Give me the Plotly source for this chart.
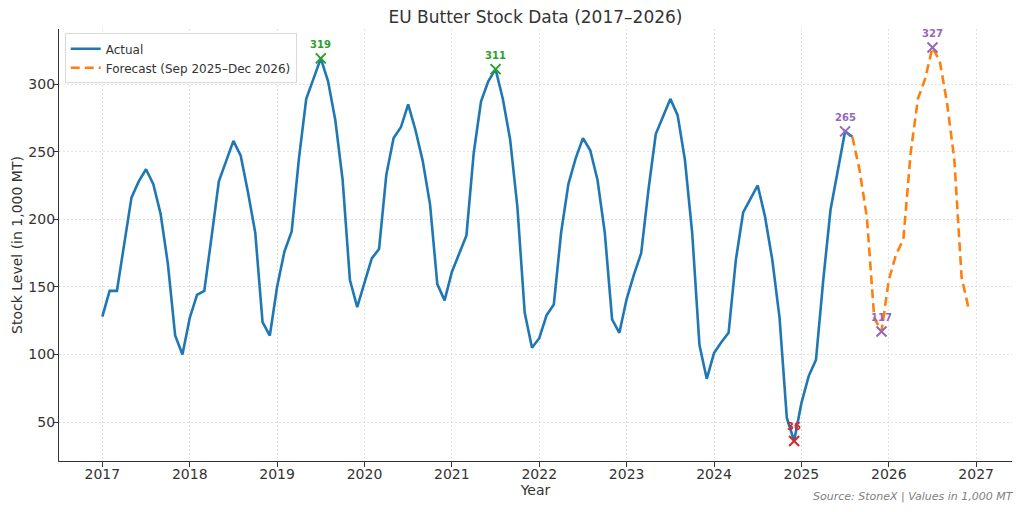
import numpy as np
import plotly.graph_objects as go

# monthly stock levels, 1,000 MT
ACTUAL_START = (2017, 1)
actual = [
    128, 147, 147, 182, 216, 228, 237, 226, 204, 167, 114, 100,   # 2017
    127, 144, 147, 187, 228, 243, 258, 247, 220, 190, 124, 114,   # 2018
    150, 176, 191, 245, 289, 304, 319, 302, 273, 229, 155, 135,   # 2019
    154, 171, 178, 233, 260, 268, 285, 266, 243, 211, 152, 140,   # 2020
    161, 174, 188, 249, 287, 302, 311, 289, 259, 209, 131, 105,   # 2021
    112, 129, 137, 190, 226, 245, 260, 251, 229, 190, 126, 116,   # 2022
    141, 159, 175, 222, 263, 276, 289, 277, 244, 190, 107, 82,    # 2023
    101, 109, 116, 170, 205, 215, 225, 202, 170, 127, 53, 36,     # 2024
    64, 84, 96, 155, 207, 236, 265, 261,                          # 2025 Jan-Aug
]

FORECAST_START = (2025, 9)
forecast = [
    236, 201, 127, 117,                                           # 2025 Sep-Dec
    155, 174, 185, 249, 289, 304, 327, 317, 286, 244, 157, 133,   # 2026
]

# highlighted months (year, month) and their colour
highlights = [
    ((2019, 7), "#2ca02c"),
    ((2021, 7), "#2ca02c"),
    ((2024, 12), "#d62728"),
    ((2025, 7), "#9467bd"),
    ((2025, 12), "#9467bd"),
    ((2026, 7), "#9467bd"),
]

FONT = "DejaVu Sans"


def month_axis(start, n):
    y, m = start
    return [y + (m - 1 + i) / 12 for i in range(n)]


x_act = month_axis(ACTUAL_START, len(actual))
x_fc = month_axis(FORECAST_START, len(forecast))

# forecast line is joined to last actual point
x_fc_line = [x_act[-1]] + x_fc
y_fc_line = [actual[-1]] + forecast

lookup = dict(zip(x_act + x_fc, actual + forecast))

fig = go.Figure()

fig.add_trace(go.Scatter(x=x_act, y=actual, mode="lines", name="Actual",
                         line=dict(color="#1f77b4", width=2.6)))
fig.add_trace(go.Scatter(x=x_fc_line, y=y_fc_line, mode="lines",
                         name="Forecast (Sep 2025\u2013Dec 2026)",
                         line=dict(color="#ff7f0e", width=2.6, dash="9px,5px")))

for (ym, col) in highlights:
    xv = month_axis(ym, 1)[0]
    yv = lookup[min(lookup, key=lambda k: abs(k - xv))]
    fig.add_trace(go.Scatter(x=[xv], y=[yv], mode="markers", showlegend=False,
                             marker=dict(symbol="x-thin", size=10, color=col,
                                         line=dict(color=col, width=2))))
    fig.add_annotation(x=xv, y=yv, text="<b>%d</b>" % yv, showarrow=False,
                       yshift=14, font=dict(family=FONT, size=10, color=col))

fig.add_annotation(text="<i>Source: StoneX | Values in 1,000 MT</i>",
                   xref="paper", yref="paper", x=1.004, y=-0.083,
                   xanchor="right", yanchor="middle", showarrow=False,
                   font=dict(family=FONT, size=11, color="#808080"))

# page body adds an 8px offset, so margins are shifted to compensate
fig.update_layout(
    width=1024, height=512,
    template="simple_white",
    margin=dict(l=51, r=20, t=21, b=59, autoexpand=False),
    font=dict(family=FONT, size=14, color="#333333"),
    title=dict(text="EU Butter Stock Data (2017\u20132026)", x=0.5, xref="paper",
               xanchor="center", y=1 - 9.5 / 512, yref="container",
               yanchor="middle", font=dict(size=17, color="#333333")),
    legend=dict(x=0.006, y=0.99, xanchor="left", yanchor="top",
                bgcolor="rgba(255,255,255,0.85)", bordercolor="#d9d9d9",
                borderwidth=1, font=dict(size=12, color="#333333"),
                tracegroupgap=0),
    showlegend=True,
)

fig.update_xaxes(range=[2016.504, 2027.41], dtick=1, tick0=2017,
                 ticks="outside", ticklen=5, tickcolor="#333333",
                 tickfont=dict(size=14), automargin=False, ticklabelstandoff=-5,
                 showline=True, linecolor="#333333", linewidth=1.3,
                 showgrid=True, gridcolor="#e2e2e2", griddash="2px,2px", gridwidth=1,
                 title=dict(text="Year", standoff=0, font=dict(size=14)),
                 zeroline=False)
fig.update_yaxes(range=[21.2, 340.7], tickvals=[50, 100, 150, 200, 250, 300],
                 ticks="outside", ticklen=5, tickcolor="#333333",
                 tickfont=dict(size=14), automargin=False, ticklabelstandoff=-5,
                 showline=True, linecolor="#333333", linewidth=1.3,
                 showgrid=True, gridcolor="#e2e2e2", griddash="2px,2px", gridwidth=1,
                 title=dict(text="Stock Level (in 1,000 MT)", standoff=2,
                            font=dict(size=14)),
                 zeroline=False)

fig.write_html("out.html")
